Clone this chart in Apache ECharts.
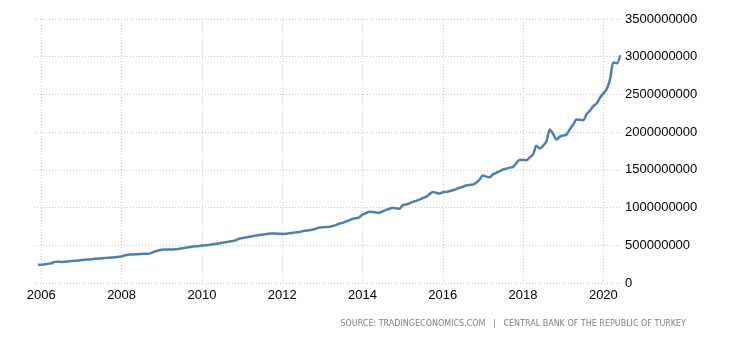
<!DOCTYPE html>
<html>
<head>
<meta charset="utf-8">
<script src="https://cdn.jsdelivr.net/npm/echarts@6/dist/echarts.min.js"></script>
<style>
  html, body { margin: 0; padding: 0; background: #fff; }
  #chart { width: 730px; height: 340px; }
</style>
</head>
<body>
<div id="chart"></div>
<script>
// Monthly money supply, millions, Dec 2005 .. Jun 2020
const startYear = 2005, startMonthIdx = 11; // December 2005
const values = [
  243,
  243, 248, 255, 262, 280, 282, 279, 281, 286, 291, 294, 298,
  304, 309, 312, 315, 320, 324, 327, 330, 334, 337, 342, 348,
  353, 366, 376, 378, 380, 382, 385, 387, 389, 400, 420, 432,
  440, 443, 444, 445, 446, 452, 460, 468, 473, 480, 486, 490,
  495, 500, 505, 512, 518, 524, 532, 540, 548, 556, 565, 585,
  595, 603, 612, 620, 628, 636, 641, 646, 652, 655, 656, 654,
  651, 654, 659, 664, 670, 676, 685, 692, 698, 706, 720, 734,
  738, 742, 744, 755, 768, 786, 797, 815, 830, 850, 858, 870,
  907, 925, 943, 940, 935, 930, 950, 969, 982, 996, 990, 983,
  1030, 1040, 1055, 1075, 1089, 1105, 1125, 1142, 1175, 1208, 1195, 1186,
  1203, 1208, 1218, 1230, 1245, 1262, 1275, 1292, 1300, 1305, 1330, 1370,
  1425, 1410, 1402, 1440, 1461, 1482, 1505, 1515, 1530, 1540, 1590, 1633,
  1630, 1628, 1665, 1704, 1819, 1783, 1820, 1880, 2036, 1975, 1903, 1940,
  1955, 1969, 2040, 2102, 2169, 2165, 2159, 2240, 2285, 2345, 2380, 2457,
  2514, 2570, 2700, 2922, 2912, 3019
];
const yearTicks = [2006, 2008, 2010, 2012, 2014, 2016, 2018, 2020];
const yTicks = [0, 500000000, 1000000000, 1500000000, 2000000000, 2500000000, 3000000000, 3500000000];
const sourceText = 'SOURCE: TRADINGECONOMICS.COM   |   CENTRAL BANK OF THE REPUBLIC OF TURKEY';

// x is measured in fractional years
const seriesData = values.map((v, i) => [startYear + (startMonthIdx + i) / 12, v * 1e6]);

const gridLine = { show: true, lineStyle: { color: '#c8c8c8', type: [1, 2], width: 1 } };
const labelFont = "'Liberation Sans', Arial, sans-serif";

const chart = echarts.init(document.getElementById('chart'));
chart.setOption({
  animation: false,
  grid: { left: 34, right: 108, top: 19, bottom: 57 },
  xAxis: {
    type: 'value',
    min: 2005.818,
    max: 2020.464,
    axisLine: { show: false },
    axisTick: { show: false, customValues: yearTicks },
    axisLabel: {
      customValues: yearTicks,
      formatter: v => String(Math.round(v)),
      color: '#000',
      fontSize: 13,
      fontFamily: labelFont,
      margin: 6
    },
    splitLine: gridLine
  },
  yAxis: {
    type: 'value',
    position: 'right',
    min: yTicks[0],
    max: yTicks[yTicks.length - 1],
    interval: yTicks[1] - yTicks[0],
    axisLine: { show: false },
    axisTick: { show: false },
    axisLabel: {
      formatter: v => String(v),
      color: '#000',
      fontSize: 13,
      fontFamily: labelFont,
      margin: 3
    },
    splitLine: gridLine
  },
  series: [{
    type: 'line',
    data: seriesData,
    showSymbol: false,
    smooth: 0.3,
    lineStyle: { color: '#4a80b4', width: 2.5 },
    itemStyle: { color: '#4a80b4' }
  }],
  graphic: [{
    type: 'text',
    right: 44,
    top: 320,
    style: {
      text: sourceText,
      fill: '#808080',
      font: "8px 'DejaVu Sans', Verdana, sans-serif"
    }
  }]
});
</script>
</body>
</html>
